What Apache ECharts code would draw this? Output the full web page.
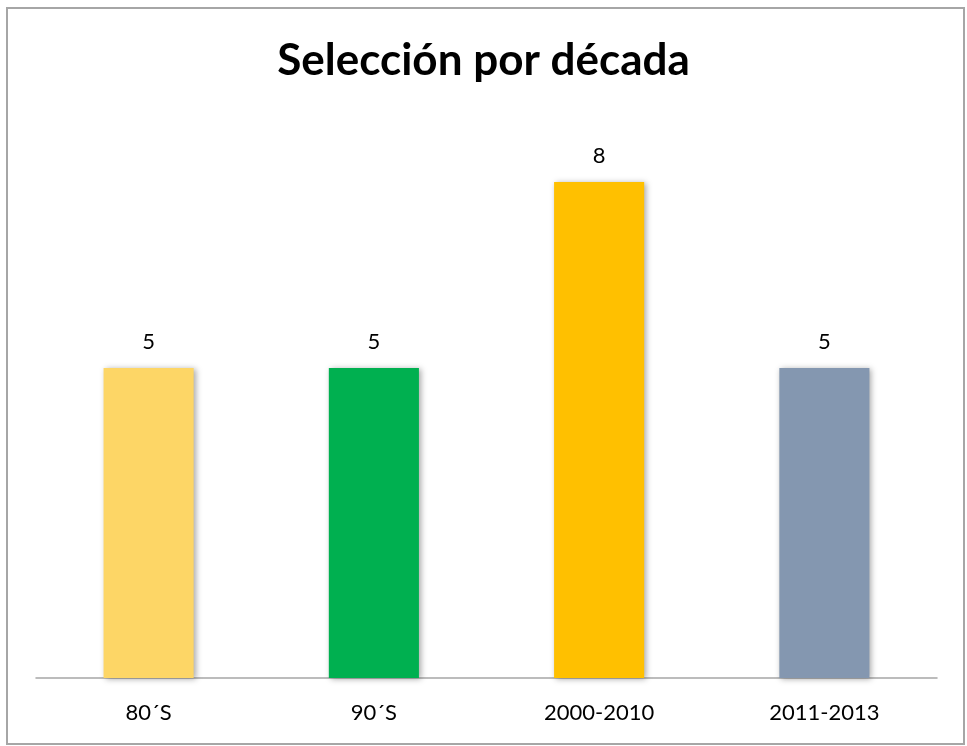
<!DOCTYPE html>
<html>
<head>
<meta charset="utf-8">
<script src="https://cdn.jsdelivr.net/npm/echarts@6/dist/echarts.min.js"></script>
<style>
  body { margin: 0; background: #fff; }
  .chart { width: 967px; height: 746px; }
</style>
</head>
<body>
<div id="chart" class="chart"></div>
<script>
const categories = ['80´S', '90´S', '2000-2010', '2011-2013']
const values = [5, 5, 8, 5]
const barColors = ['#FDD666', '#00B050', '#FFC000', '#8497B0']

const myChart = echarts.init(document.getElementById('chart'))
myChart.setOption({
  animation: false,
  title: {
    text: 'Selección por década',
    left: 'center',
    top: 34,
    textStyle: {
      fontFamily: 'Lato',
      fontWeight: 'bold',
      fontSize: 44,
      color: '#000'
    }
  },
  graphic: [{
    type: 'rect',
    shape: { x: 7, y: 8, width: 957, height: 736 },
    style: { fill: 'none', stroke: '#a6a6a6', lineWidth: 2 },
    silent: true
  }],
  grid: {
    left: 36,
    right: 30,
    top: 120,
    bottom: 68
  },
  xAxis: {
    type: 'category',
    data: categories,
    axisTick: { show: false },
    axisLine: { lineStyle: { color: '#a6a6a6', width: 1.5 } },
    axisLabel: {
      margin: 24,
      color: '#000',
      fontFamily: 'Lato',
      fontSize: 22
    }
  },
  yAxis: {
    type: 'value',
    min: 0,
    max: 9,
    show: false,
    splitLine: { show: false }
  },
  series: [{
    type: 'bar',
    barCategoryGap: '60%',
    data: values.map((v, i) => ({
      value: v,
      itemStyle: { color: barColors[i] }
    })),
    itemStyle: {
      shadowColor: 'rgba(0,0,0,0.35)',
      shadowBlur: 6,
      shadowOffsetX: 2,
      shadowOffsetY: 1
    },
    label: {
      show: true,
      position: 'top',
      distance: 15,
      color: '#000',
      fontFamily: 'Lato',
      fontSize: 22
    }
  }]
})
</script>
</body>
</html>
